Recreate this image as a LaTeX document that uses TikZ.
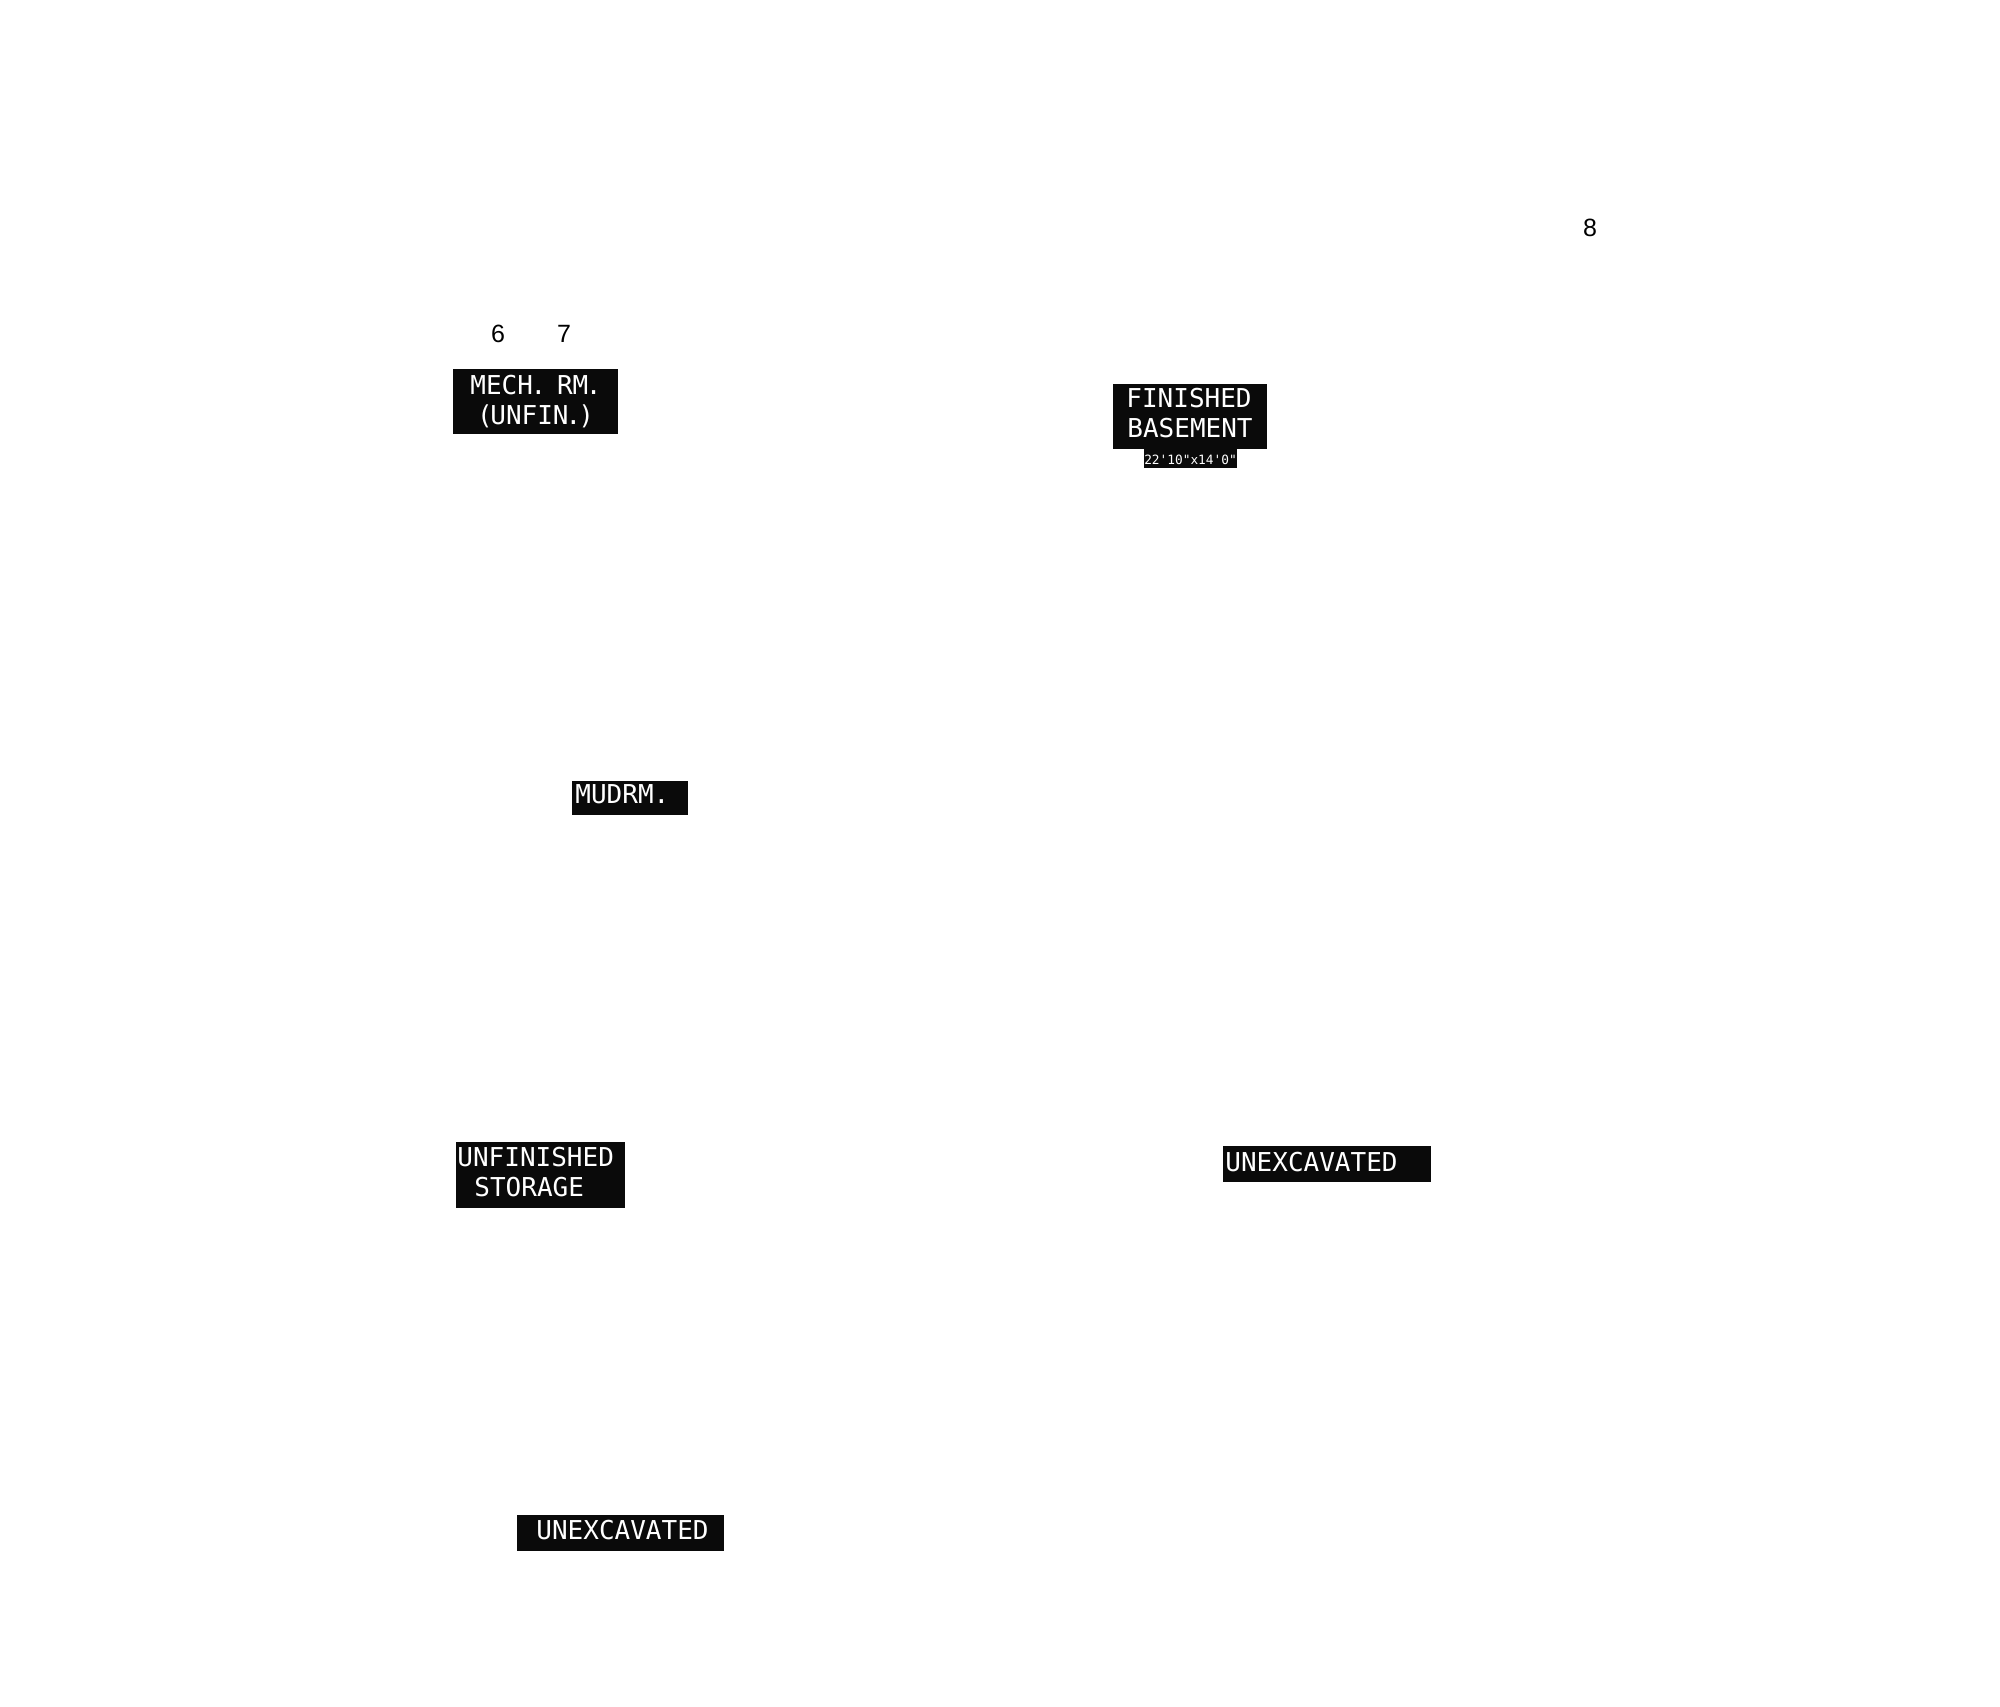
\documentclass[tikz,border=0pt]{standalone}
\usepackage{fontspec}
\setmainfont{Liberation Sans}
\newfontfamily\tagfont{DejaVu Sans Mono}[Ligatures=TeXOff]
\definecolor{tagfill}{HTML}{0A0A0A}
\begin{document}
\begin{tikzpicture}[x=0.5pt,y=-0.5pt,
  tag/.style={fill=tagfill},
  mono/.style={text=white, inner sep=0pt, font=\tagfont\fontsize{13pt}{15pt}\selectfont},
  monosmall/.style={text=white, inner sep=0pt, font=\tagfont\fontsize{6.4pt}{7pt}\selectfont},
  num/.style={text=black, inner sep=0pt, font=\fontsize{12.5pt}{14pt}\selectfont}]
\useasboundingbox[fill=white] (0,0) rectangle (2000,1706);
% numbers
\node[num] (n6) at (498,334) {6};
\node[num] (n7) at (564,334) {7};
\node[num] (n8) at (1590,228) {8};
% mech room
\path[tag] (453,369) rectangle (618,434);
\node[mono, anchor=base] (mech1) at (536,394) {MECH\kern-1.2pt.\kern-1.2pt\ \kern-1.2pt RM\kern-1.2pt.};
\node[mono, anchor=base] (mech2) at (535.5,424) {(\kern-1.2pt UNFIN\kern-1.5pt.\kern-1.5pt)};
% finished basement
\path[tag] (1113,384) rectangle (1267,449);
\path[tag] (1144,449) rectangle (1237,468);
\node[mono, anchor=base] (fin1) at (1189,407) {FINISHED};
\node[mono, anchor=base] (fin2) at (1190,437) {BASEMENT};
\node[monosmall, anchor=base] (findim) at (1190.5,464) {22'10"x14'0"};
% mudroom
\path[tag] (572,781) rectangle (688,815);
\node[mono, anchor=base west] (mud) at (575,803) {MUDRM.};
% unfinished storage
\path[tag] (456,1142) rectangle (625,1208);
\node[mono, anchor=base west] (st1) at (457,1166) {UNFINISHED};
\node[mono, anchor=base west] (st2) at (474,1196) {STORAGE};
% unexcavated right
\path[tag] (1223,1146) rectangle (1431,1182);
\node[mono, anchor=base west] (unexr) at (1225,1171) {UNEXCAVATED};
% unexcavated bottom
\path[tag] (517,1515) rectangle (724,1551);
\node[mono, anchor=base west] (unexb) at (536,1539) {UNEXCAVATED};
\end{tikzpicture}
\end{document}
